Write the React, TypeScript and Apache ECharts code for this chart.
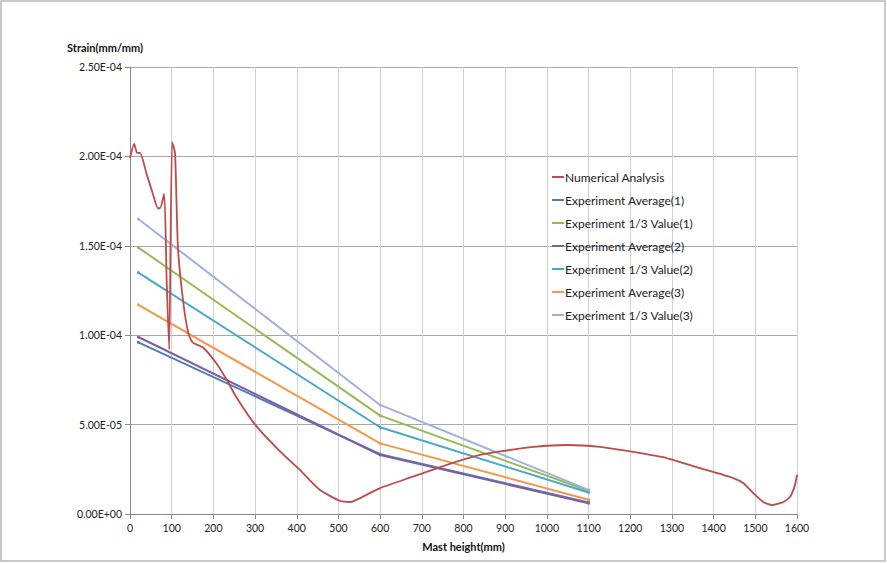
import React, { useEffect, useRef } from "react";
import * as echarts from "echarts";

const expX = [20, 600, 1100];
const avg1 = [9.6e-5, 3.35e-5, 6.5e-6];
const third1 = [1.49e-4, 5.5e-5, 1.3e-5];
const avg2 = [9.9e-5, 3.3e-5, 6.0e-6];
const third2 = [1.35e-4, 4.85e-5, 1.2e-5];
const avg3 = [1.17e-4, 3.95e-5, 8.0e-6];
const third3 = [1.65e-4, 6.1e-5, 1.35e-5];

const numX = [0, 10, 17, 24, 40, 55, 67, 72, 82, 88, 94, 101, 108, 115, 128, 140, 150, 176, 208, 232, 256, 300, 360, 408, 456, 504, 528, 552, 600, 680, 760, 840, 888, 968, 1048, 1127, 1207, 1287, 1367, 1447, 1471, 1495, 1519, 1540, 1567, 1583, 1595, 1600];
const numY = [1.99e-4, 2.07e-4, 2.02e-4, 2.02e-4, 1.9e-4, 1.79e-4, 1.71e-4, 1.71e-4, 1.79e-4, 1.3e-4, 9.2e-5, 2.08e-4, 2.02e-4, 1.49e-4, 1.18e-4, 1.01e-4, 9.6e-5, 9.3e-5, 8.4e-5, 7.5e-5, 6.5e-5, 5.0e-5, 3.5e-5, 2.45e-5, 1.34e-5, 7.3e-6, 6.7e-6, 8.9e-6, 1.45e-5, 2.1e-5, 2.75e-5, 3.3e-5, 3.5e-5, 3.75e-5, 3.86e-5, 3.75e-5, 3.47e-5, 3.13e-5, 2.57e-5, 2.01e-5, 1.73e-5, 1.17e-5, 6.7e-6, 5.0e-6, 6.7e-6, 9.5e-6, 1.6e-5, 2.2e-5];

const seriesNames = [
  "Numerical Analysis",
  "Experiment Average(1)",
  "Experiment 1/3 Value(1)",
  "Experiment Average(2)",
  "Experiment 1/3 Value(2)",
  "Experiment Average(3)",
  "Experiment 1/3 Value(3)",
];
const colors = ["#be4b48", "#4a7ebb", "#98b954", "#7d5fa0", "#46aac5", "#f79646", "#9db1dc"];

function fmtExp(v: number): string {
  if (v === 0) return "0.00E+00";
  const s = v.toExponential(2).toUpperCase();
  const [m, e] = s.split("E");
  const sign = e[0] === "-" ? "-" : "+";
  const digits = e.replace(/[+-]/, "").padStart(2, "0");
  return `${m}E${sign}${digits}`;
}

const zip = (xs: number[], ys: number[]) => xs.map((x, i) => [x, ys[i]]);

export default function App() {
  const ref = useRef<HTMLDivElement>(null);
  useEffect(() => {
    document.body.style.margin = "0";
    const chart = echarts.init(ref.current!, null, { renderer: "svg" });
    const expData = [avg1, third1, avg2, third2, avg3, third3];
    const font = "Lato, 'Noto Sans', sans-serif";
    chart.setOption({
      animation: false,
      backgroundColor: "#ffffff",
      textStyle: { fontFamily: font },
      grid: { left: 130, right: 90, top: 67, bottom: 50 },
      graphic: [
        {
          type: "rect",
          shape: { x: 1, y: 1, width: 884, height: 560 },
          style: { fill: "none", stroke: "#b8b8b8", lineWidth: 1.5 },
          silent: true,
        },
      ],
      legend: {
        orient: "vertical",
        left: 547,
        top: 166,
        itemWidth: 12,
        itemHeight: 2,
        itemGap: 11,
        icon: "rect",
        textStyle: { fontSize: 12, color: "#222", fontFamily: font, padding: [0, 0, 0, -4] },
        data: seriesNames,
      },
      xAxis: {
        type: "value",
        min: 0,
        max: 1600,
        interval: 100,
        name: "Mast height(mm)",
        nameLocation: "middle",
        nameGap: 27,
        nameTextStyle: { fontWeight: "bold", fontSize: 11, color: "#111" },
        axisLine: { show: true, lineStyle: { color: "#888", width: 1 } },
        axisTick: { show: true, length: 5, lineStyle: { color: "#888" } },
        axisLabel: { fontSize: 10.5, color: "#222", margin: 8, formatter: (v: number) => String(v) },
        splitLine: { show: true, lineStyle: { color: "#cfcfd6", width: 1 } },
      },
      yAxis: {
        type: "value",
        min: 0,
        max: 2.5e-4,
        interval: 5e-5,
        name: "Strain(mm/mm)",
        nameLocation: "end",
        nameGap: 14,
        nameTextStyle: { fontWeight: "bold", fontSize: 11, color: "#111", align: "center", padding: [0, 0, 0, -50] },
        axisLine: { show: true, lineStyle: { color: "#888", width: 1 } },
        axisTick: { show: true, length: 5, lineStyle: { color: "#888" } },
        axisLabel: { fontSize: 10.5, color: "#222", margin: 8, formatter: (v: number) => fmtExp(v) },
        splitLine: { show: true, lineStyle: { color: "#a8a8a8", width: 1 } },
      },
      series: [
        {
          name: seriesNames[0],
          type: "line",
          data: zip(numX, numY),
          showSymbol: false,
          symbol: "none",
          smooth: 0.2,
          lineStyle: { color: colors[0], width: 1.8 },
          itemStyle: { color: colors[0] },
          z: 3,
        },
        ...expData.map((ys, i) => ({
          name: seriesNames[i + 1],
          type: "line",
          data: zip(expX, ys),
          symbol: "circle",
          symbolSize: 3,
          lineStyle: { color: colors[i + 1], width: 2 },
          itemStyle: { color: colors[i + 1] },
          z: 2,
        })),
      ],
    });
    return () => chart.dispose();
  }, []);
  return <div ref={ref} style={{ width: 887, height: 564 }} />;
}
